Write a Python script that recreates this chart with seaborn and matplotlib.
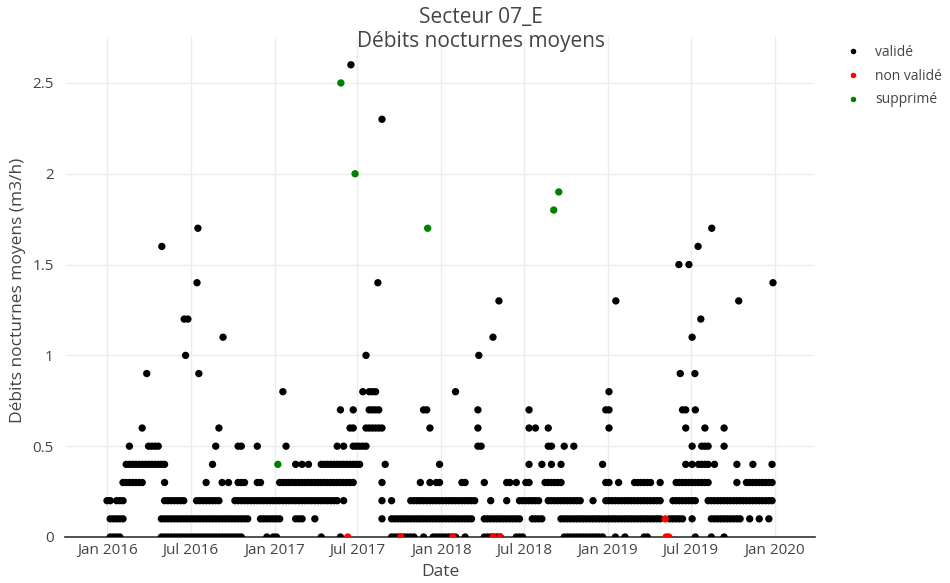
import numpy as np
import pandas as pd
import matplotlib
matplotlib.use("Agg")
import matplotlib.pyplot as plt
import matplotlib.dates as mdates
import seaborn as sns

# ---------------- data ----------------
# Weekly presence masks (one char per week, first week centred on 2015-12-24),
# '#' = a "validé" night-flow value at that level during that week.
week0 = "2015-12-24"
levels = [0.0, 0.1, 0.2, 0.3, 0.4, 0.5, 0.6, 0.7, 0.8]
mask_00 = ("..####.... ........## ########## ########## ####...... .#.##..... ........#. ....#..... .......... ########.. "
           "#..####### #..#.....# #####....# ##........ ....###### #######... #..#.....# #......... .....#.... #...#..... .......... ..")
mask_01 = ("..#####... ........## ########## ########## ######...# ######.... ###...#... .......... .......#.. ########## "
           "########## ######...# ########## #...####.. ...####### ########## ########## #####..### ##..#..... ########## ..#..#..#. ..")
mask_02 = (".##.###... .........# ######...# #######... .######### ########## ########## ####.#.... .......#.. #.....#### "
           "########## #######... .#....#... #######..# ########## ...#...### ########## #####...## ######...# ########## ########## ..")
mask_03 = ("......#### ###......# .......... ..#....#.# ..###...## .....##### ########## #########. .......#.. .........# "
           "..#.##.... ..##.....# ......##.# ..##....## ####...... .......##. .#....#### ##..#....# ########## ........#. .######### ..")
mask_04 = (".......### ########## .......... ....#..... .......... .......... #.#.#...## ########## #.......#. .......... "
           ".....#.... .......... .......... ...#...#.. #..#...... ......#... .......... .......... ..#.#.#### .#......#. ...#.....# ..")
mask_05 = ("........#. ....####.. .......... .....#.... ..##....#. .......#.. .......... ...#.#..## ###....... .......... "
           ".......... .......##. .......... .........# #...#..#.. .......... .......... .......... ....#..### ....#..... .......... ..")
mask_06 = (".......... ..#....... .......... ......#... .......... .......... .......... .......##. ..######.. .......... "
           "..#....... .......#.. .......... ...#.#...# .......... ........#. .......... .......... ..#.....#. ....#..... .......... ..")
mask_07 = (".......... .......... .......... .......... .......... .......... .......... ....#...#. ...####... .......... "
           "##........ .......#.. .......... ...#...... .......... .......##. .......... .......... .##..#.... .......... .......... ..")
mask_08 = (".......... .......... .......... .......... .......... ......#... .......... .......... .#.###.... .......... "
           ".......... #......... .......... .......... .......... ........#. .......... .......... .......... .......... .......... ..")
masks = [mask_00, mask_01, mask_02, mask_03, mask_04, mask_05, mask_06, mask_07, mask_08]

# Isolated high "validé" values
high_dates = ["2016-03-27", "2016-04-29", "2016-06-17", "2016-06-20", "2016-06-25", "2016-07-15",
              "2016-07-17", "2016-07-19", "2016-09-10", "2017-06-17", "2017-07-20", "2017-08-15",
              "2017-08-24", "2018-03-24", "2018-04-24", "2018-05-07", "2019-01-18", "2019-06-05",
              "2019-06-08", "2019-06-27", "2019-07-04", "2019-07-10", "2019-07-17", "2019-07-23",
              "2019-08-16", "2019-10-14", "2019-12-28"]
high_vals = [0.9, 1.6, 1.2, 1.0, 1.2, 1.4,
             1.7, 0.9, 1.1, 2.6, 1.0, 1.4,
             2.3, 1.0, 1.1, 1.3, 1.3, 1.5,
             0.9, 1.5, 1.1, 0.9, 1.6, 1.2,
             1.7, 1.3, 1.4]

# "non validé"
nv_dates = ["2017-06-10", "2017-10-04", "2018-01-26", "2018-04-24", "2018-05-09", "2019-05-06", "2019-05-08", "2019-05-14"]
nv_vals = [0.0, 0.0, 0.0, 0.0, 0.0, 0.1, 0.0, 0.0]

# "supprimé"
sup_dates = ["2017-01-08", "2017-05-26", "2017-06-26", "2017-12-02", "2018-09-04", "2018-09-15"]
sup_vals = [0.4, 2.5, 2.0, 1.7, 1.8, 1.9]

status_labels = ["validé", "non validé", "supprimé"]
status_colors = ["#000000", "#ff0000", "#008000"]

# ---------------- build table ----------------
rows = []
start = pd.Timestamp(week0)
for lvl, m in zip(levels, masks):
    for i, c in enumerate(m.replace(" ", "")):
        if c == "#":
            rows.append((start + pd.Timedelta(days=7 * i), lvl, status_labels[0]))
for d, v in zip(high_dates, high_vals):
    rows.append((pd.Timestamp(d), v, status_labels[0]))
for d, v in zip(nv_dates, nv_vals):
    rows.append((pd.Timestamp(d), v, status_labels[1]))
for d, v in zip(sup_dates, sup_vals):
    rows.append((pd.Timestamp(d), v, status_labels[2]))
df = pd.DataFrame(rows, columns=["Date", "debit", "statut"])

# ---------------- plot ----------------
sns.set_style("white")
plt.rcParams["font.family"] = ["Open Sans", "DejaVu Sans"]
txt = "#444444"

fig = plt.figure(figsize=(9.5, 5.83), dpi=100)
ax = fig.add_axes([65 / 950, (583 - 537) / 583, 750 / 950, 500 / 583])

sns.scatterplot(data=df, x="Date", y="debit", hue="statut", hue_order=status_labels,
                palette=dict(zip(status_labels, status_colors)), s=28, linewidth=0,
                ax=ax, legend=True, zorder=3)

ax.set_xlim(pd.Timestamp("2015-09-30"), pd.Timestamp("2020-03-29"))
ax.set_ylim(0, 2.753)
ax.set_yticks([0, 0.5, 1, 1.5, 2, 2.5])
ax.set_yticklabels(["0", "0.5", "1", "1.5", "2", "2.5"])
ax.xaxis.set_major_locator(mdates.MonthLocator(bymonth=[1, 7]))
ax.xaxis.set_major_formatter(mdates.DateFormatter("%b %Y"))
ax.grid(True, color="#ececec", lw=1, zorder=0)
ax.set_axisbelow(True)
for s in ["left", "top", "right"]:
    ax.spines[s].set_visible(False)
ax.spines["bottom"].set_color("#333333")
ax.spines["bottom"].set_linewidth(1.2)
ax.tick_params(axis="both", length=0, labelsize=11, colors=txt)
ax.tick_params(axis="y", pad=8)
ax.tick_params(axis="x", pad=4)
ax.set_xlabel("")
ax.set_ylabel("")

fig.text(18 / 950, 1 - 290 / 583, "Débits nocturnes moyens (m3/h)", rotation=90,
         ha="center", va="center", fontsize=12.5, color=txt)
fig.text(440 / 950, 1 - 572 / 583, "Date", ha="center", va="center", fontsize=12.5, color=txt)
fig.text(481 / 950, 1 - 17 / 583, "Secteur 07_E", ha="center", va="center", fontsize=15, color=txt)
fig.text(481 / 950, 1 - 42 / 583, "Débits nocturnes moyens", ha="center", va="center", fontsize=15, color=txt)

h, l = ax.get_legend_handles_labels()
leg = ax.legend(h, l, loc="upper left", bbox_to_anchor=(840 / 950, 1 - 41 / 583),
                bbox_transform=fig.transFigure, frameon=False, fontsize=10,
                handlelength=1.2, handletextpad=1.05, labelspacing=0.62, markerscale=0.75,
                borderaxespad=0, borderpad=0.3)
for t in leg.get_texts():
    t.set_color(txt)

fig.savefig("out.png", dpi=100)
